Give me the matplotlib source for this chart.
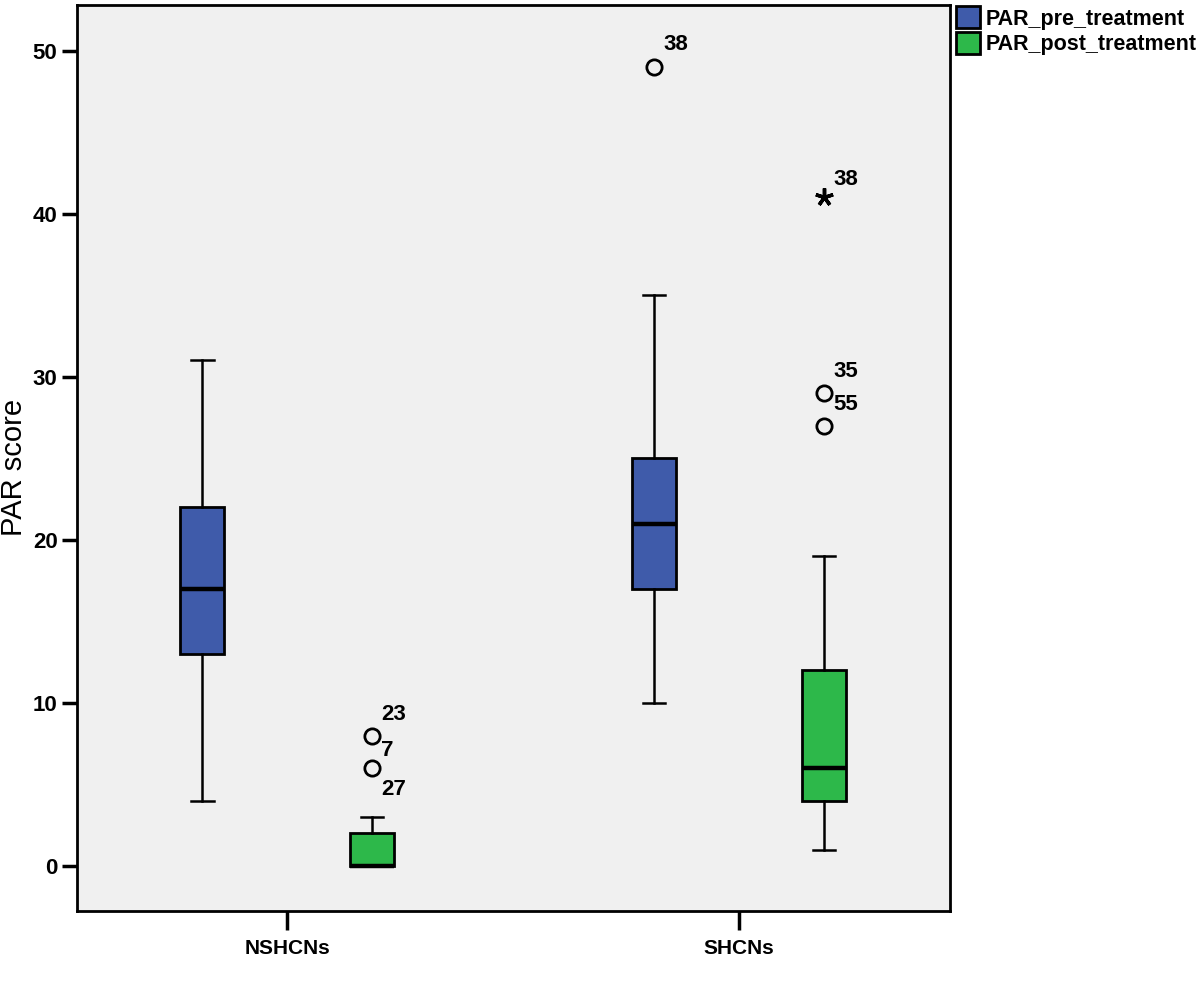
import matplotlib.pyplot as plt
from matplotlib.patches import Patch

plt.rcParams['font.family'] = ['Liberation Sans', 'DejaVu Sans']

groups = ['NSHCNs', 'SHCNs']
series = ['PAR_pre_treatment', 'PAR_post_treatment']
colors = ['#3F5BAA', '#2DB84A']

# five-number summaries per group: [lower whisker, q1, median, q3, upper whisker]
pre_stats = [[4, 13, 17, 22, 31], [10, 17, 21, 25, 35]]
post_stats = [[0, 0, 0, 2, 3], [1, 4, 6, 12, 19]]

# outliers
outlier_group = [0, 0, 1, 1, 1, 1]
outlier_series = [1, 1, 0, 1, 1, 1]
outlier_value = [8, 6, 49, 41, 29, 27]
outlier_marker = ['o', 'o', 'o', '*', 'o', 'o']
# case labels
label_group = [0, 0, 0, 1, 1, 1, 1]
label_series = [1, 1, 1, 0, 1, 1, 1]
label_y = [9.3, 7.1, 4.7, 50.4, 42.1, 30.3, 28.3]
label_text = ['23', '7', '27', '38', '38', '35', '55']

offset = 0.188
width = 0.097

fig = plt.figure(figsize=(12, 9.81), dpi=100)
ax = fig.add_axes([77 / 1200, 1 - 911 / 981, (950 - 77) / 1200, (911 - 5) / 981])
ax.set_facecolor('#F0F0F0')

for s, (stats, col) in enumerate(zip([pre_stats, post_stats], colors)):
    bstats = []
    pos = []
    for g, st in enumerate(stats):
        bstats.append(dict(whislo=st[0], q1=st[1], med=st[2], q3=st[3], whishi=st[4], fliers=[]))
        pos.append(g + (2 * s - 1) * offset)
    ax.bxp(bstats, positions=pos, widths=width, patch_artist=True, showfliers=False,
           capwidths=width * 0.52,
           boxprops=dict(facecolor=col, edgecolor='black', linewidth=2),
           medianprops=dict(color='black', linewidth=3.2),
           whiskerprops=dict(color='black', linewidth=1.8),
           capprops=dict(color='black', linewidth=1.8))

for g, s, v, m in zip(outlier_group, outlier_series, outlier_value, outlier_marker):
    x = g + (2 * s - 1) * offset
    if m == 'o':
        ax.plot(x, v, 'o', markersize=11, markerfacecolor='none', markeredgecolor='black', markeredgewidth=2)
    else:
        ax.plot(x, v, marker=(5, 2, 0), markersize=13, color='black', markeredgewidth=2.5)

for g, s, y, t in zip(label_group, label_series, label_y, label_text):
    x = g + (2 * s - 1) * offset + 0.02
    ax.text(x, y, t, fontsize=16, fontweight='bold', va='center', ha='left')

ax.set_xlim(-0.465, 1.467)
ax.set_ylim(-2.76, 52.8)
ax.set_xticks([0, 1])
ax.set_xticklabels(groups, fontsize=15, fontweight='bold')
ax.set_yticks([0, 10, 20, 30, 40, 50])
ax.set_yticklabels(['0', '10', '20', '30', '40', '50'], fontsize=16, fontweight='bold')
ax.tick_params(axis='y', length=11, width=2.5, pad=3)
ax.tick_params(axis='x', length=14, width=2.5, pad=6)
for sp in ax.spines.values():
    sp.set_linewidth(2)
fig.text(14 / 1200, 1 - 467 / 981, 'PAR score', fontsize=21, rotation=90, ha='center', va='center')

handles = [Patch(facecolor=c, edgecolor='black', linewidth=2, label=l) for c, l in zip(colors, series)]
fig.legend(handles=handles, loc='upper left', bbox_to_anchor=(952 / 1200, 1 - 2 / 981),
           frameon=False, prop=dict(size=15.5, weight='bold'), handlelength=1.1, handleheight=1.2,
           handletextpad=0.25, labelspacing=0.1, borderaxespad=0, borderpad=0.2)

fig.savefig('out.png', dpi=100)
